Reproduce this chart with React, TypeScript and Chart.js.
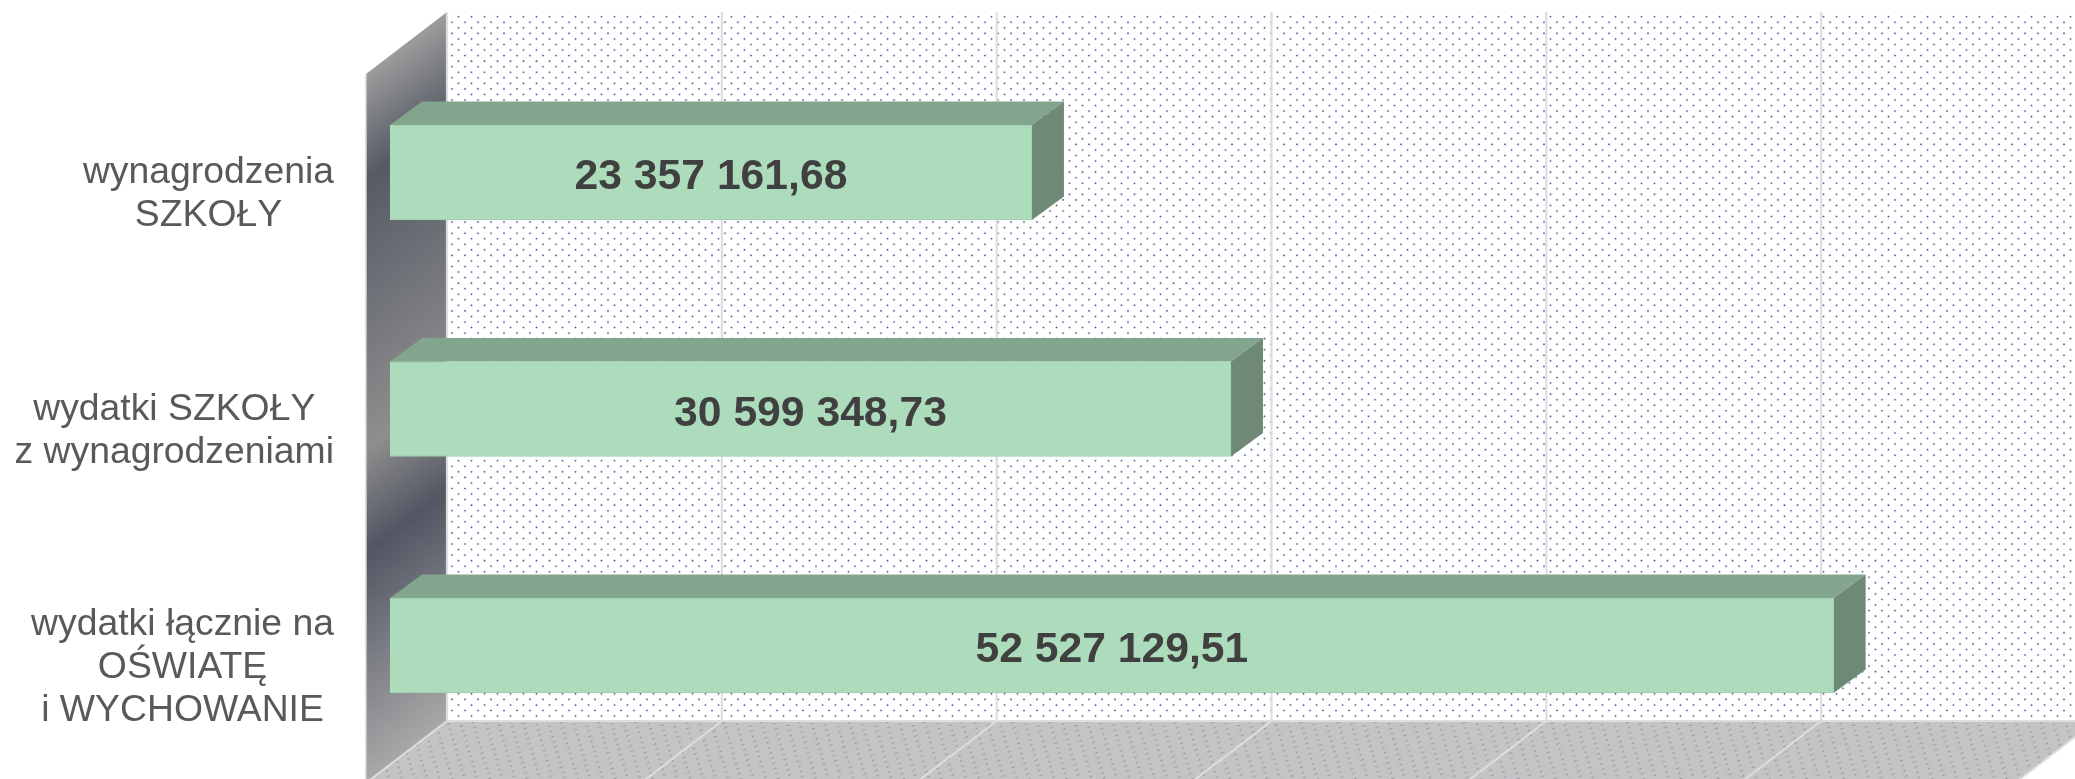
import React, { useEffect, useRef } from "react";
import { Chart, registerables } from "chart.js";

Chart.register(...registerables);

const categories = [
  ["wynagrodzenia", "SZKOŁY"],
  ["wydatki SZKOŁY", "z wynagrodzeniami"],
  ["wydatki łącznie na", "OŚWIATĘ", "i WYCHOWANIE"],
];
const values = [23357161.68, 30599348.73, 52527129.51];
const gridValues = [0, 10000000, 20000000, 30000000, 40000000, 50000000, 60000000];

const FONT = '"Liberation Sans", Arial, sans-serif';
const W = 2075;
const H = 779;
const WALL_DX = 81;
const WALL_DY = 62;
const BACK_DX = 57;
const BAR_DX = 32;
const BAR_DY = 23.5;
const WALL_TOP = 12;
const WALL_BOTTOM = 721;

function fmt(v: number) {
  const [a, b] = v.toFixed(2).split(".");
  return a.replace(/\B(?=(\d{3})+$)/g, " ") + "," + b;
}

function dotTile(core: string, halo: string, r: number, haloR: number) {
  const c = document.createElement("canvas");
  c.width = 13;
  c.height = 111;
  const g = c.getContext("2d")!;
  for (let i = 0; i < 20; i++) {
    const y = 0.1 + i * 5.55;
    const x = i % 2 === 0 ? 10 : 3.5;
    for (const yy of [y, y + 111]) {
      g.fillStyle = halo;
      g.beginPath();
      g.arc(x, yy, haloR, 0, Math.PI * 2);
      g.fill();
      g.fillStyle = core;
      g.beginPath();
      g.arc(x, yy, r, 0, Math.PI * 2);
      g.fill();
    }
  }
  return c;
}

const walls3d = {
  id: "walls3d",
  beforeDatasetsDraw(chart: any) {
    const { ctx, scales } = chart;
    const x = scales.x;
    const x0 = x.getPixelForValue(0) + BACK_DX; // back wall origin
    const xEnd = x.getPixelForValue(60000000) + BACK_DX;
    ctx.save();

    // back wall
    ctx.fillStyle = "#ffffff";
    ctx.fillRect(x0, WALL_TOP, W - x0, WALL_BOTTOM - WALL_TOP);
    const wallPat = ctx.createPattern(dotTile("rgba(44,58,118,0.85)", "rgba(120,135,185,0.16)", 0.82, 1.6), "repeat");
    ctx.fillStyle = wallPat;
    ctx.fillRect(x0, WALL_TOP, W - x0, WALL_BOTTOM - WALL_TOP);

    // side wall with diagonal gradient
    const sx = x0 - WALL_DX;
    const grad = ctx.createLinearGradient(sx, WALL_TOP + WALL_DY, sx + 342, WALL_TOP + WALL_DY + 447);
    grad.addColorStop(0, "#9c9c9c");
    grad.addColorStop(0.147, "#555a65");
    grad.addColorStop(0.53, "#8e8e8e");
    grad.addColorStop(0.676, "#525663");
    grad.addColorStop(1, "#a8a8a8");
    ctx.fillStyle = grad;
    ctx.beginPath();
    ctx.moveTo(x0, WALL_TOP);
    ctx.lineTo(x0, WALL_BOTTOM);
    ctx.lineTo(sx, WALL_BOTTOM + WALL_DY);
    ctx.lineTo(sx, WALL_TOP + WALL_DY);
    ctx.closePath();
    ctx.fill();
    ctx.strokeStyle = "#d4d4d4";
    ctx.lineWidth = 1.5;
    ctx.beginPath();
    ctx.moveTo(sx, WALL_TOP + WALL_DY);
    ctx.lineTo(sx, H);
    ctx.stroke();

    // floor
    const floorPath = () => {
      ctx.beginPath();
      ctx.moveTo(x0, WALL_BOTTOM);
      ctx.lineTo(xEnd, WALL_BOTTOM);
      ctx.lineTo(xEnd - WALL_DX, WALL_BOTTOM + WALL_DY);
      ctx.lineTo(sx, WALL_BOTTOM + WALL_DY);
      ctx.closePath();
    };
    floorPath();
    ctx.fillStyle = "#c4c4c4";
    ctx.fill();
    const floorPat = ctx.createPattern(dotTile("rgba(95,100,140,0.55)", "rgba(130,135,160,0.14)", 0.8, 1.5), "repeat");
    floorPat.setTransform(new DOMMatrix([1, 0.12, -0.9, 0.78, 0, 0]));
    ctx.fillStyle = floorPat;
    floorPath();
    ctx.fill();

    // gridlines on back wall and floor
    gridValues.forEach((v) => {
      const gx = x.getPixelForValue(v) + BACK_DX;
      ctx.strokeStyle = "#dedede";
      ctx.lineWidth = 2.2;
      ctx.beginPath();
      ctx.moveTo(gx, WALL_TOP);
      ctx.lineTo(gx, WALL_BOTTOM);
      ctx.stroke();
      ctx.lineWidth = 2;
      ctx.beginPath();
      ctx.moveTo(gx, WALL_BOTTOM);
      ctx.lineTo(gx - WALL_DX, WALL_BOTTOM + WALL_DY);
      ctx.stroke();
    });
    ctx.strokeStyle = "#dedede";
    ctx.lineWidth = 2;
    ctx.beginPath();
    ctx.moveTo(x0, WALL_BOTTOM);
    ctx.lineTo(W, WALL_BOTTOM);
    ctx.stroke();

    // bar depth faces
    const meta = chart.getDatasetMeta(0);
    meta.data.forEach((bar: any) => {
      const left = bar.base;
      const right = bar.x;
      const top = bar.y - bar.height / 2;
      const bottom = bar.y + bar.height / 2;
      ctx.fillStyle = "#84a58d";
      ctx.beginPath();
      ctx.moveTo(left, top);
      ctx.lineTo(left + BAR_DX, top - BAR_DY);
      ctx.lineTo(right + BAR_DX, top - BAR_DY);
      ctx.lineTo(right, top);
      ctx.closePath();
      ctx.fill();
      ctx.fillStyle = "#6e8975";
      ctx.beginPath();
      ctx.moveTo(right, top);
      ctx.lineTo(right + BAR_DX, top - BAR_DY);
      ctx.lineTo(right + BAR_DX, bottom - BAR_DY);
      ctx.lineTo(right, bottom);
      ctx.closePath();
      ctx.fill();
    });
    ctx.restore();
  },
  afterDatasetsDraw(chart: any) {
    const { ctx, scales } = chart;
    const meta = chart.getDatasetMeta(0);
    ctx.save();
    // value labels
    ctx.font = `bold 42.67px ${FONT}`;
    ctx.fillStyle = "#404040";
    ctx.textAlign = "center";
    ctx.textBaseline = "alphabetic";
    meta.data.forEach((bar: any, i: number) => {
      ctx.fillText(fmt(values[i]), (bar.base + bar.x) / 2, bar.y + 16.5);
    });
    // category labels: each block right-aligned, its lines centred
    ctx.font = `37.33px ${FONT}`;
    ctx.fillStyle = "#595959";
    const labelRight = scales.x.left - 56;
    categories.forEach((lines, i) => {
      const cy = scales.y.getPixelForValue(i);
      const widest = Math.max(...lines.map((l) => ctx.measureText(l).width));
      const cx = labelRight - widest / 2;
      lines.forEach((l, j) => {
        ctx.fillText(l, cx, cy + 32 + (j - (lines.length - 1) / 2) * 43);
      });
    });
    ctx.restore();
  },
};

export default function App() {
  const ref = useRef<HTMLCanvasElement>(null);
  useEffect(() => {
    const chart = new Chart(ref.current!, {
      type: "bar",
      data: {
        labels: categories,
        datasets: [
          {
            data: values,
            backgroundColor: "#addcbc",
            borderColor: "#9fcdae",
            borderWidth: 1,
            barThickness: 95,
          },
        ],
      },
      options: {
        indexAxis: "y",
        responsive: false,
        animation: false,
        layout: { padding: { left: 390, right: 36, top: 54.25, bottom: 15.25 } },
        plugins: { legend: { display: false }, tooltip: { enabled: false } },
        scales: {
          x: { display: false, min: 0, max: 60000000 },
          y: { display: false },
        },
      },
      plugins: [walls3d],
    } as any);
    return () => chart.destroy();
  }, []);
  return (
    <div style={{ position: "absolute", left: 0, top: 0, width: W, height: H, background: "#fff" }}>
      <canvas ref={ref} width={W} height={H} style={{ display: "block" }} />
    </div>
  );
}
